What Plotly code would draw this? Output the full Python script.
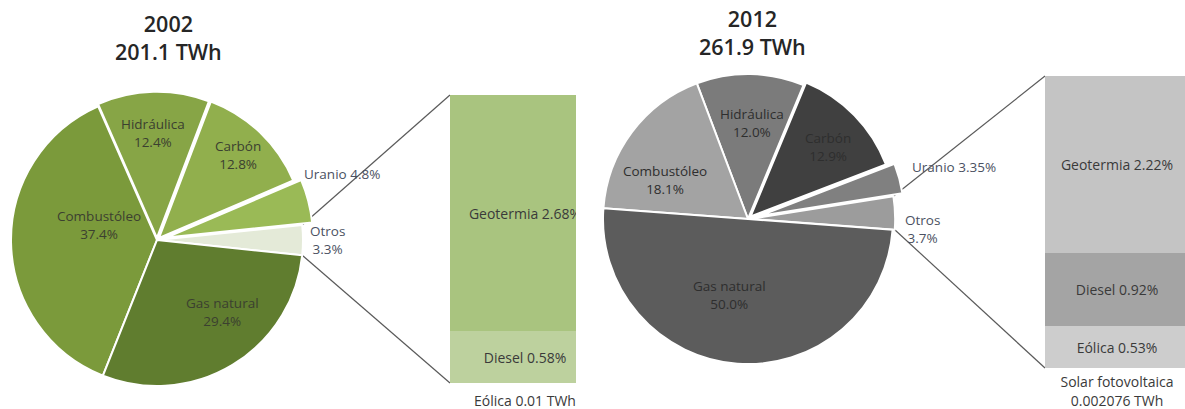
import math
import plotly.graph_objects as go

W, H = 1185, 409

# ---------------- data ----------------
sources = ["Otros", "Uranio", "Carbón", "Hidráulica", "Combustóleo", "Gas natural"]
share_2002 = [3.3, 4.8, 12.8, 12.4, 37.4, 29.4]
share_2012 = [3.7, 3.35, 12.9, 12.0, 18.1, 50.0]
total_2002_twh = 201.1
total_2012_twh = 261.9

otros_2002 = ["Eólica", "Diesel", "Geotermia"]
otros_2002_pct = [0.01 / total_2002_twh * 100, 0.58, 2.68]
eolica_2002_twh = 0.01

otros_2012 = ["Solar fotovoltaica", "Eólica", "Diesel", "Geotermia"]
otros_2012_pct = [0.002076 / total_2012_twh * 100, 0.53, 0.92, 2.22]
solar_2012_twh = 0.002076

# ---------------- styling ----------------
FONT = "Open Sans"
green = ["#e4ead8", "#9aba56", "#91af4d", "#87a546", "#7b9a3b", "#607d2f"]
grey = ["#9c9c9c", "#808080", "#404040", "#7b7b7b", "#a3a3a3", "#5c5c5c"]
green_bar = ["#d5e2c0", "#bdd19e", "#a9c47f"]
grey_bar = ["#e0e0e0", "#cdcdcd", "#a4a4a4", "#c4c4c4"]

pie_cfg = [
    dict(year=2002, total=total_2002_twh, vals=share_2002, colors=green,
         cx=157, cy=240, r=146, start=-6.0,
         pull=[0.0, 0.07, 0.02, 0.015, 0.0, 0.0],
         # (angle offset from bisector, radius fraction, anchor)
         lab=[(0, 1.035, "left"), (10, 1.09, "left"), (0.2, 0.80, "center"),
              (0.5, 0.735, "center"), (-15.7, 0.41, "center"), (11, 0.665, "center")],
         title_xy=(168, 37), txt="#3b4030"),
    dict(year=2012, total=total_2012_twh, vals=share_2012, colors=grey,
         cx=748, cy=219, r=145, start=-4.3,
         pull=[0.015, 0.08, 0.025, 0.0, 0.0, 0.0],
         lab=[(-6, 1.07, "left"), (2.75, 1.17, "left"), (-2.3, 0.74, "center"),
              (-1.5, 0.66, "center"), (11.5, 0.63, "center"), (-9.2, 0.54, "center")],
         title_xy=(752, 33), txt="#2e2e2e"),
]

bar_cfg = [
    dict(names=otros_2002, vals=otros_2002_pct, colors=green_bar,
         left=450, width=150, right_vis=576, top=95, bottom=383,
         note=f"Eólica {eolica_2002_twh:g} TWh", note_y=402),
    dict(names=otros_2012, vals=otros_2012_pct, colors=grey_bar,
         left=1045, width=144, right_vis=1185, top=76, bottom=368,
         note=f"Solar fotovoltaica<br>{solar_2012_twh:g} TWh", note_y=393),
]


def px(x):
    return x / W


def py(y):
    return 1 - y / H


fig = go.Figure()
annotations = []
shapes = []

for pc, bc in zip(pie_cfg, bar_cfg):
    vals = pc["vals"]
    tot = sum(vals)
    degs = [v / tot * 360 for v in vals]
    maxpull = max(pc["pull"])
    half = pc["r"] * (1 + maxpull)
    dom_x = [max(0, px(pc["cx"] - half)), min(1, px(pc["cx"] + half))]
    dom_y = [max(0, py(pc["cy"] + half)), min(1, py(pc["cy"] - half))]
    # plotly puts the boundary between slice 0 and slice 1 at the rotation angle
    rotation = 90 - (pc["start"] + degs[0])
    fig.add_trace(go.Pie(
        values=vals, labels=sources, sort=False, direction="counterclockwise",
        rotation=rotation, pull=pc["pull"], textinfo="none",
        marker=dict(colors=pc["colors"], line=dict(color="white", width=2)),
        domain=dict(x=dom_x, y=dom_y), showlegend=False,
        hovertemplate="%{label}: %{value}%<extra></extra>",
    ))

    # slice geometry (math angles, degrees)
    a = pc["start"]
    spans = []
    for d in degs:
        spans.append((a, a + d))
        a += d

    for i, (name, v) in enumerate(zip(sources, vals)):
        a0, a1 = spans[i]
        mid = (a0 + a1) / 2
        dang, frac, anchor = pc["lab"][i]
        ang = math.radians(mid + dang)
        lx = pc["cx"] + frac * pc["r"] * math.cos(ang)
        ly = pc["cy"] - frac * pc["r"] * math.sin(ang)
        pct = f"{v:.1f}%" if v >= 10 or v == round(v, 1) else f"{v:g}%"
        if name == "Uranio":
            text = f"{name} {pct}"
            col = "#4b5162"
        elif name == "Otros":
            text = f"{name}<br>{pct}"
            col = "#4b5162"
        else:
            text = f"{name}<br>{pct}"
            col = pc["txt"]
        annotations.append(dict(
            x=px(lx), y=py(ly), xref="paper", yref="paper", text=text,
            showarrow=False, xanchor=anchor, yanchor="middle", align="center",
            font=dict(family=FONT, size=13.5, color=col)))

    # connectors from the "Otros" slice to its breakdown bar
    o0, o1 = spans[0]
    shift = pc["pull"][0] * pc["r"]
    omid = math.radians((o0 + o1) / 2)
    ox, oy = shift * math.cos(omid), -shift * math.sin(omid)
    for ang, by in ((o1, bc["top"]), (o0, bc["bottom"])):
        sx = pc["cx"] + ox + pc["r"] * math.cos(math.radians(ang))
        sy = pc["cy"] + oy - pc["r"] * math.sin(math.radians(ang))
        shapes.append(dict(type="line", xref="paper", yref="paper", layer="below",
                           x0=px(sx), y0=py(sy), x1=px(bc["left"]), y1=py(by),
                           line=dict(color="#5a5a5a", width=1.2)))

    tx, ty = pc["title_xy"]
    annotations.append(dict(
        x=px(tx), y=py(ty), xref="paper", yref="paper",
        text=f"{pc['year']}<br>{pc['total']:.1f} TWh", showarrow=False,
        xanchor="center", yanchor="middle", align="center",
        font=dict(family=FONT, size=21.5, color="#262626", weight=600)))

# ---------------- breakdown bars ----------------
for k, bc in enumerate(bar_cfg):
    xa = "x" if k == 0 else "x2"
    ya = "y" if k == 0 else "y2"
    tot = sum(bc["vals"])
    for name, v, col in zip(bc["names"], bc["vals"], bc["colors"]):
        label = f"{name} {v:.2f}%" if v >= 0.1 else ""
        fig.add_trace(go.Bar(
            x=[0], y=[v], width=[1], xaxis=xa, yaxis=ya, name=name,
            marker=dict(color=col, line=dict(width=0)),
            text=[label], textposition="inside", insidetextanchor="middle",
            textangle=0, constraintext="none", cliponaxis=True,
            textfont=dict(family=FONT, size=14, color="#3a3a3a"),
            showlegend=False, hovertemplate=f"{name}: %{{y:.4f}}%<extra></extra>"))
    ppu = (bc["bottom"] - bc["top"]) / tot
    ymin = -(H - bc["bottom"]) / ppu
    fig.add_trace(go.Scatter(
        x=[0], y=[(bc["bottom"] - bc["note_y"]) / ppu], xaxis=xa, yaxis=ya,
        mode="text", text=[bc["note"]], textposition="middle center",
        cliponaxis=True, showlegend=False, hoverinfo="skip",
        textfont=dict(family=FONT, size=14, color="#3a3a3a")))
    xr = [-0.5, -0.5 + (bc["right_vis"] - bc["left"]) / bc["width"]]
    axx = dict(domain=[px(bc["left"]), px(bc["right_vis"])], range=xr,
               visible=False, fixedrange=True)
    axy = dict(domain=[0, py(bc["top"])], range=[ymin, tot],
               visible=False, fixedrange=True)
    if k == 0:
        fig.update_layout(xaxis=axx, yaxis=dict(axy, anchor="x"))
    else:
        fig.update_layout(xaxis2=dict(axx, anchor="y2"), yaxis2=dict(axy, anchor="x2"))

fig.update_layout(
    width=W, height=H, margin=dict(l=0, r=0, t=0, b=0),
    paper_bgcolor="white", plot_bgcolor="white", barmode="stack", bargap=0,
    annotations=annotations, shapes=shapes,
    font=dict(family=FONT),
)

fig.write_html("out.html")
